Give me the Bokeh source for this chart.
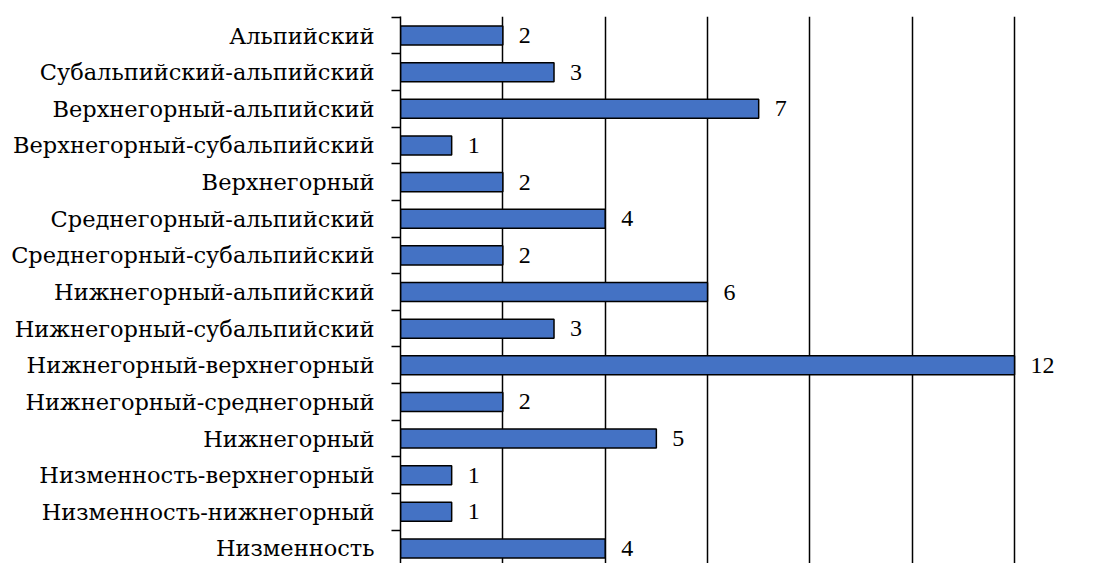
from bokeh.plotting import figure
from bokeh.models import FixedTicker, ColumnDataSource, LabelSet
from bokeh.embed import file_html
from bokeh.resources import INLINE

categories = [
    "Альпийский",
    "Субальпийский-альпийский",
    "Верхнегорный-альпийский",
    "Верхнегорный-субальпийский",
    "Верхнегорный",
    "Среднегорный-альпийский",
    "Среднегорный-субальпийский",
    "Нижнегорный-альпийский",
    "Нижнегорный-субальпийский",
    "Нижнегорный-верхнегорный",
    "Нижнегорный-среднегорный",
    "Нижнегорный",
    "Низменность-верхнегорный",
    "Низменность-нижнегорный",
    "Низменность",
]
values = [2, 3, 7, 1, 2, 4, 2, 6, 3, 12, 2, 5, 1, 1, 4]
grid_ticks = [0, 2, 4, 6, 8, 10, 12]

n = len(categories)
ypos = [n - 1 - i for i in range(n)]

src = ColumnDataSource(dict(y=ypos, v=values, t=[str(v) for v in values]))

FONT = "DejaVu Serif"

p = figure(width=1100, height=563, output_backend="svg", toolbar_location=None,
           x_range=(0, 13.68), y_range=(-0.41, n - 0.48),
           min_border_left=400, min_border_right=0, min_border_top=16, min_border_bottom=0)
p.outline_line_color = None
p.xaxis.visible = False

p.hbar(y="y", left=0, right="v", height=0.52, source=src,
       fill_color="#4472C4", line_color="black", line_width=1.5)

labels = LabelSet(x="v", y="y", text="t", source=src, x_offset=16, y_offset=0,
                  text_align="left", text_baseline="middle",
                  text_font=FONT, text_font_size="24px", text_color="black")
p.add_layout(labels)

yax = p.yaxis[0]
yax.ticker = FixedTicker(ticks=ypos, minor_ticks=[i + 0.5 for i in range(-1, n)])
yax.major_label_overrides = {y: c for y, c in zip(ypos, categories)}
yax.major_label_text_font = FONT
yax.major_label_text_font_size = "22.5px"
yax.major_label_text_color = "black"
yax.major_label_standoff = 17
yax.major_tick_out = 0
yax.major_tick_in = 0
yax.minor_tick_out = 9
yax.minor_tick_in = 0
yax.minor_tick_line_color = "black"
yax.minor_tick_line_width = 1.5
yax.axis_line_color = "black"
yax.axis_line_width = 1.5

p.ygrid.visible = False
p.xgrid.ticker = FixedTicker(ticks=grid_ticks)
p.xgrid.grid_line_color = "black"
p.xgrid.grid_line_width = 1.5
p.xgrid.grid_line_alpha = 1.0

open("out.html", "w").write(file_html(p, INLINE))
